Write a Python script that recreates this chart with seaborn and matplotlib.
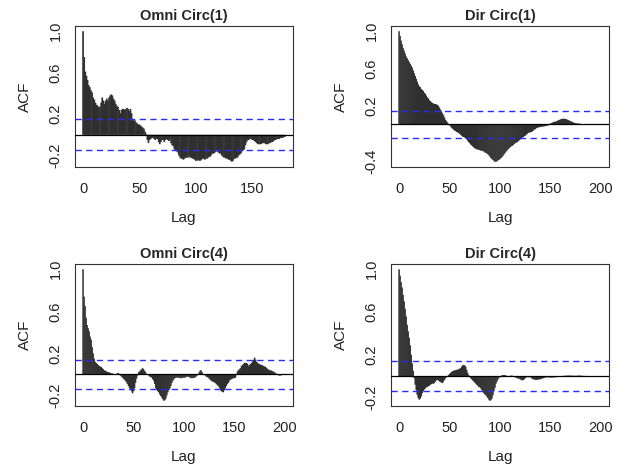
import numpy as np
import matplotlib
matplotlib.use("Agg")
import matplotlib.pyplot as plt
import seaborn as sns

# ---------------- data (ACF values, lag 0 .. L) ----------------
titles = ["Omni Circ(1)", "Dir Circ(1)", "Omni Circ(4)", "Dir Circ(4)"]

acf_omni1 = [
    1.00, 0.75, 0.61, 0.57, 0.53, 0.48, 0.46, 0.43, 0.41, 0.36,
    0.34, 0.31, 0.29, 0.28, 0.27, 0.27, 0.31, 0.36, 0.33, 0.30,
    0.33, 0.35, 0.33, 0.36, 0.38, 0.39, 0.38, 0.35, 0.33, 0.30,
    0.28, 0.27, 0.24, 0.21, 0.24, 0.25, 0.25, 0.24, 0.25, 0.26,
    0.25, 0.23, 0.25, 0.21, 0.15, 0.14, 0.14, 0.12, 0.11, 0.10,
    0.10, 0.09, 0.08, 0.07, 0.06, 0.03, 0.01, -0.05, -0.08, -0.05,
    -0.04, -0.03, -0.03, -0.04, -0.05, -0.04, -0.04, -0.07, -0.09, -0.07,
    -0.05, -0.05, -0.07, -0.05, -0.04, -0.05, -0.06, -0.05, -0.08, -0.10,
    -0.11, -0.14, -0.15, -0.16, -0.17, -0.20, -0.22, -0.23, -0.23, -0.24,
    -0.23, -0.22, -0.22, -0.22, -0.21, -0.22, -0.22, -0.23, -0.23, -0.24,
    -0.25, -0.25, -0.24, -0.25, -0.25, -0.24, -0.23, -0.23, -0.24, -0.23,
    -0.23, -0.22, -0.21, -0.21, -0.19, -0.18, -0.18, -0.17, -0.16, -0.16,
    -0.17, -0.18, -0.18, -0.20, -0.21, -0.22, -0.22, -0.23, -0.23, -0.24,
    -0.24, -0.25, -0.26, -0.25, -0.23, -0.23, -0.22, -0.22, -0.20, -0.19,
    -0.18, -0.16, -0.15, -0.14, -0.10, -0.07, -0.05, -0.05, -0.04, -0.04,
    -0.05, -0.05, -0.06, -0.07, -0.08, -0.09, -0.09, -0.09, -0.09, -0.08,
    -0.08, -0.08, -0.09, -0.09, -0.09, -0.08, -0.08, -0.07, -0.07, -0.06,
    -0.05, -0.05, -0.04, -0.04, -0.04, -0.03, -0.03, -0.03, -0.02, -0.02,
]

acf_dir1 = [
    1.00, 0.95, 0.90, 0.86, 0.82, 0.79, 0.76, 0.73, 0.71, 0.69,
    0.67, 0.65, 0.63, 0.61, 0.58, 0.55, 0.52, 0.49, 0.46, 0.43,
    0.41, 0.40, 0.38, 0.37, 0.36, 0.34, 0.33, 0.31, 0.29, 0.28,
    0.26, 0.25, 0.24, 0.23, 0.225, 0.22, 0.22, 0.215, 0.21, 0.20,
    0.18, 0.16, 0.14, 0.12, 0.10, 0.075, 0.05, 0.035, 0.02, 0.005,
    -0.01, -0.02, -0.035, -0.045, -0.055, -0.065, -0.07, -0.08, -0.085, -0.09,
    -0.10, -0.11, -0.12, -0.13, -0.135, -0.14, -0.15, -0.16, -0.175, -0.19,
    -0.20, -0.215, -0.225, -0.235, -0.245, -0.255, -0.26, -0.265, -0.27, -0.27,
    -0.275, -0.28, -0.28, -0.285, -0.29, -0.30, -0.305, -0.31, -0.32, -0.33,
    -0.345, -0.36, -0.37, -0.38, -0.39, -0.40, -0.40, -0.395, -0.385, -0.38,
    -0.37, -0.36, -0.35, -0.335, -0.32, -0.305, -0.29, -0.28, -0.265, -0.255,
    -0.245, -0.235, -0.23, -0.22, -0.21, -0.20, -0.195, -0.19, -0.18, -0.17,
    -0.16, -0.15, -0.14, -0.135, -0.125, -0.12, -0.11, -0.10, -0.09, -0.085,
    -0.085, -0.08, -0.075, -0.065, -0.055, -0.05, -0.04, -0.035, -0.03, -0.03,
    -0.025, -0.025, -0.025, -0.02, -0.02, -0.015, -0.015, -0.01, -0.01, 0.0,
    0.01, 0.015, 0.02, 0.025, 0.03, 0.03, 0.035, 0.04, 0.045, 0.05,
    0.055, 0.06, 0.06, 0.062, 0.06, 0.06, 0.055, 0.05, 0.045, 0.04,
    0.035, 0.03, 0.025, 0.02, 0.015, 0.015, 0.01, 0.01, 0.01, 0.008,
    0.005, 0.005, 0.004, 0.003, 0.003, 0.002, 0.0, 0.0, -0.002, -0.002,
    -0.003, -0.003, -0.003, -0.002, -0.002, -0.002, 0.0, 0.0, 0.0, 0.0,
    0.0,
]

acf_omni4 = [
    1.00, 0.74, 0.65, 0.54, 0.47, 0.44, 0.41, 0.36, 0.33, 0.26,
    0.20, 0.15, 0.12, 0.11, 0.10, 0.09, 0.08, 0.075, 0.07, 0.06,
    0.05, 0.04, 0.035, 0.03, 0.025, 0.02, 0.02, 0.015, 0.01, 0.01,
    0.005, 0.0, 0.0, 0.005, 0.01, 0.015, 0.005, -0.01, -0.02, -0.03,
    -0.04, -0.05, -0.06, -0.075, -0.09, -0.11, -0.13, -0.145, -0.16, -0.18,
    -0.16, -0.13, -0.08, -0.04, -0.01, 0.02, 0.03, 0.04, 0.05, 0.06,
    0.05, 0.035, 0.02, 0.0, -0.005, -0.01, -0.02, -0.025, -0.03, -0.045,
    -0.06, -0.09, -0.13, -0.145, -0.16, -0.17, -0.19, -0.205, -0.22, -0.235,
    -0.25, -0.245, -0.23, -0.20, -0.17, -0.15, -0.135, -0.11, -0.08, -0.06,
    -0.045, -0.035, -0.03, -0.03, -0.03, -0.03, -0.035, -0.035, -0.035, -0.03,
    -0.03, -0.03, -0.025, -0.02, -0.02, -0.025, -0.03, -0.035, -0.035, -0.035,
    -0.03, -0.03, -0.02, -0.01, 0.0, 0.02, 0.035, 0.04, 0.02, 0.005,
    -0.005, -0.01, -0.02, -0.025, -0.03, -0.04, -0.05, -0.06, -0.065, -0.07,
    -0.075, -0.08, -0.09, -0.10, -0.11, -0.125, -0.14, -0.16, -0.165, -0.17,
    -0.15, -0.13, -0.11, -0.09, -0.08, -0.06, -0.05, -0.045, -0.04, -0.035,
    -0.035, -0.03, 0.0, 0.03, 0.04, 0.05, 0.06, 0.08, 0.09, 0.10,
    0.11, 0.11, 0.11, 0.10, 0.08, 0.09, 0.10, 0.11, 0.125, 0.14,
    0.16, 0.14, 0.12, 0.11, 0.10, 0.10, 0.09, 0.09, 0.085, 0.08,
    0.075, 0.07, 0.06, 0.05, 0.045, 0.04, 0.04, 0.035, 0.03, 0.025,
    0.02, 0.01, 0.005, -0.005, -0.01, -0.01, -0.01, 0.0, 0.005, 0.0,
    0.0,
]

acf_dir4 = [
    1.00, 0.94, 0.88, 0.83, 0.76, 0.70, 0.63, 0.56, 0.48, 0.42,
    0.36, 0.29, 0.20, 0.12, 0.05, -0.02, -0.08, -0.13, -0.175, -0.205,
    -0.22, -0.21, -0.19, -0.16, -0.14, -0.125, -0.115, -0.105, -0.10, -0.095,
    -0.09, -0.08, -0.075, -0.07, -0.07, -0.065, -0.05, -0.04, -0.035, -0.04,
    -0.05, -0.055, -0.06, -0.065, -0.05, -0.035, -0.02, -0.01, 0.0, 0.01,
    0.02, 0.03, 0.04, 0.045, 0.05, 0.055, 0.055, 0.06, 0.06, 0.065,
    0.07, 0.075, 0.09, 0.10, 0.105, 0.10, 0.09, 0.06, 0.03, 0.01,
    -0.01, -0.02, -0.03, -0.04, -0.05, -0.06, -0.07, -0.08, -0.09, -0.10,
    -0.105, -0.115, -0.13, -0.145, -0.16, -0.17, -0.18, -0.19, -0.205, -0.22,
    -0.23, -0.225, -0.21, -0.18, -0.14, -0.11, -0.07, -0.05, -0.03, -0.015,
    -0.01, 0.0, 0.01, 0.01, 0.01, 0.01, 0.005, 0.003, 0.0, 0.0,
    0.003, 0.005, 0.005, 0.0, -0.005, -0.01, -0.015, -0.02, -0.02, -0.025,
    -0.03, -0.035, -0.04, -0.035, -0.03, -0.02, -0.01, -0.01, -0.01, -0.01,
    -0.01, -0.015, -0.025, -0.03, -0.03, -0.035, -0.035, -0.035, -0.03, -0.03,
    -0.03, -0.025, -0.02, -0.02, -0.015, -0.015, -0.01, -0.01, -0.012, -0.012,
    -0.012, -0.012, -0.012, -0.012, -0.01, -0.01, -0.01, -0.008, -0.006, -0.004,
    -0.002, 0.0, 0.002, 0.003, 0.003, 0.004, 0.004, 0.005, 0.005, 0.005,
    0.005, 0.004, 0.004, 0.004, 0.003, 0.003, 0.003, 0.004, 0.005, 0.005,
    0.004, 0.003, 0.003, 0.002, 0.002, 0.002, 0.001, 0.001, 0.0, 0.0,
    0.0, 0.0, 0.0, 0.0, 0.0, 0.0, 0.0, 0.0, 0.0, 0.0,
    0.0,
]

conf_limits = [0.15, 0.14, 0.14, 0.14]
x_ticks = [[0, 50, 100, 150], [0, 50, 100, 150, 200],
           [0, 50, 100, 150, 200], [0, 50, 100, 150, 200]]
y_ticks = [[-0.2, 0.0, 0.2, 0.4, 0.6, 0.8, 1.0],
           [-0.4, -0.2, 0.0, 0.2, 0.4, 0.6, 0.8, 1.0],
           [-0.2, 0.0, 0.2, 0.4, 0.6, 0.8, 1.0],
           [-0.2, 0.0, 0.2, 0.4, 0.6, 0.8, 1.0]]
y_ticklabels = [["-0.2", "", "0.2", "", "0.6", "", "1.0"],
                ["-0.4", "", "", "0.2", "", "0.6", "", "1.0"],
                ["-0.2", "", "0.2", "", "0.6", "", "1.0"],
                ["-0.2", "", "0.2", "", "0.6", "", "1.0"]]
series = [acf_omni1, acf_dir1, acf_omni4, acf_dir4]

# ---------------- style ----------------
sns.set_style("white")
plt.rcParams['font.family'] = ['Liberation Sans', 'DejaVu Sans']

W, H = 631, 470
fig = plt.figure(figsize=(W / 100, H / 100), dpi=100)

# panel boxes in pixels: left, top, right, bottom
boxes = [(75, 26, 293, 167), (391, 26, 609, 167),
         (75, 264, 293, 406), (391, 264, 609, 406)]

for i, (l, t, r, b) in enumerate(boxes):
    ax = fig.add_axes([l / W, 1 - b / H, (r - l) / W, (b - t) / H])
    vals = np.asarray(series[i], dtype=float)
    lags = np.arange(len(vals))
    sns.barplot(x=lags, y=vals, native_scale=True, orient="x",
                color="#2f2f2f", saturation=1, width=1.5,
                errorbar=None, linewidth=0, ax=ax)
    for p in ax.patches:
        p.set_snap(False)
    ci = conf_limits[i]
    ax.axhline(0, color="black", lw=0.9, zorder=3)
    for s in (ci, -ci):
        ax.axhline(s, color="#2a2aff", lw=1.0, ls=(0, (4.5, 3.2)), zorder=3)
    lo = min(vals.min(), -ci)
    hi = 1.0
    pad = 0.04 * (hi - lo)
    ax.set_ylim(lo - pad, hi + pad)
    L = lags[-1]
    ax.set_xlim(-0.04 * L, 1.04 * L)
    ax.set_xticks(x_ticks[i])
    ax.set_xticklabels([str(v) for v in x_ticks[i]])
    ax.set_yticks(y_ticks[i])
    ax.set_yticklabels(y_ticklabels[i], rotation=90, va="center")
    ax.tick_params(axis="both", direction="out", length=5, width=0.8,
                   color="#333333", labelsize=10.5, labelcolor="#222222")
    ax.tick_params(axis="x", pad=6)
    ax.tick_params(axis="y", pad=4)
    for sp in ax.spines.values():
        sp.set_visible(True)
        sp.set_color("#333333")
        sp.set_linewidth(0.8)
    ax.set_xlabel("Lag", fontsize=11, color="#222222")
    ax.set_ylabel("ACF", fontsize=11, color="#222222")
    ax.xaxis.set_label_coords(0.5, -44 / (b - t))
    ax.yaxis.set_label_coords(-43 / (r - l), 0.5)
    ax.set_title(titles[i], fontsize=10.5, fontweight="bold", pad=4)

fig.savefig("out.png", dpi=100)
